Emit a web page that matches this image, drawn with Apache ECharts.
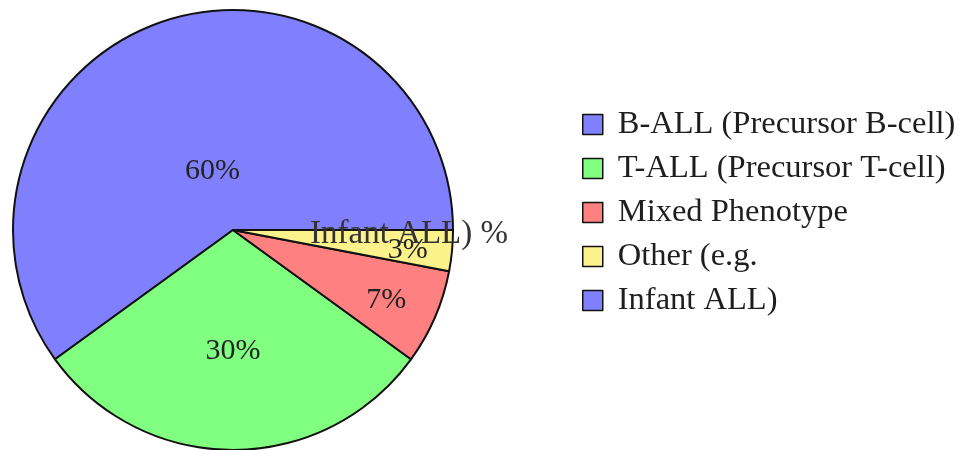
<!DOCTYPE html>
<html>
<head>
<meta charset="utf-8">
<script src="https://cdn.jsdelivr.net/npm/echarts@6/dist/echarts.min.js"></script>
<style>
  html, body { margin: 0; padding: 0; background: #ffffff; }
  #chart { width: 963px; height: 450px; }
</style>
</head>
<body>
<div id="chart"></div>
<script>
// Leukaemia subtype shares (percent)
const categories = [
  'B-ALL (Precursor B-cell)',
  'T-ALL (Precursor T-cell)',
  'Mixed Phenotype',
  'Other (e.g.',
  'Infant ALL)'
];
const values = [60, 30, 7, 3, 0];
const sliceLabels = ['60%', '30%', '7%', '3%', 'Infant ALL) %'];
const colors = ['#8080ff', '#80ff80', '#ff8080', '#fcf28c', '#8080ff'];

const CX = 233, CY = 230, R = 220;
const FONT = '"Liberation Serif", "DejaVu Serif", serif';

// Label radius follows the pgf-pie rule: wide slices pull the label inward.
const total = values.reduce((a, b) => a + b, 0);
const labelPos = [];
let acc = 0;
values.forEach(v => {
  const span = v / total * 360;
  const mid = (acc + span / 2) * Math.PI / 180;
  const f = Math.max(Math.min((span - 10) / 110 * -0.3, 0), -0.5) + 0.8;
  labelPos.push([CX + Math.cos(mid) * f * R, CY - Math.sin(mid) * f * R]);
  acc += span;
});

const chart = echarts.init(document.getElementById('chart'), null, { renderer: 'canvas' });
chart.setOption({
  animation: false,
  backgroundColor: '#ffffff',
  legend: {
    orient: 'vertical',
    left: 582,
    top: 108,
    padding: 0,
    itemWidth: 20,
    itemHeight: 20,
    itemGap: 11,
    icon: 'rect',
    itemStyle: { borderColor: '#111', borderWidth: 1.5 },
    textStyle: {
      fontFamily: FONT,
      fontSize: 32.5,
      lineHeight: 32,
      color: '#1e1e1e',
      padding: [0, 0, 0, 10]
    },
    data: categories
  },
  series: [{
    type: 'pie',
    center: [CX, CY],
    radius: R,
    startAngle: 0,
    clockwise: false,
    avoidLabelOverlap: false,
    silent: true,
    itemStyle: { borderColor: '#111', borderWidth: 2 },
    label: {
      show: true,
      position: 'inside',
      fontFamily: FONT,
      fontSize: 30,
      color: '#222',
      formatter: p => sliceLabels[p.dataIndex]
    },
    labelLine: { show: false },
    labelLayout: p => ({
      x: labelPos[p.dataIndex][0],
      y: labelPos[p.dataIndex][1] + 4,
      align: 'center',
      verticalAlign: 'middle'
    }),
    data: categories.map((name, i) => ({
      name: name,
      value: values[i],
      itemStyle: { color: colors[i] },
      label: values[i] === 0 ? { fontSize: 33, color: '#333' } : undefined
    }))
  }]
});
</script>
</body>
</html>
